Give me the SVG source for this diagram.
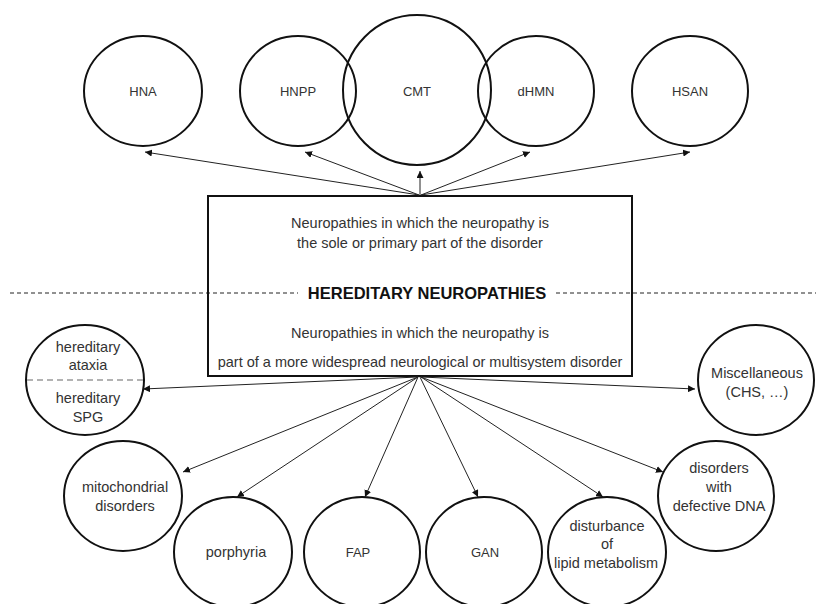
<svg xmlns="http://www.w3.org/2000/svg" width="816" height="604" viewBox="0 0 816 604">
<style>
.c{fill:none;stroke:#111;stroke-width:2}
.t{font-family:"Liberation Sans",Arial,sans-serif;font-size:14.5px;fill:#333;text-anchor:middle}
.k{font-size:13px}
.b{font-family:"Liberation Sans",Arial,sans-serif;font-size:16.5px;font-weight:bold;fill:#111;text-anchor:middle}
.a{stroke:#222;stroke-width:1;fill:none;marker-end:url(#ah)}
.d{stroke:#222;stroke-width:1;stroke-dasharray:4 3;fill:none}
</style>
<defs>
<marker id="ah" viewBox="0 0 10 10" refX="10" refY="5" markerWidth="7" markerHeight="7" orient="auto" markerUnits="userSpaceOnUse">
<path d="M0,0 L10,5 L0,10 z" fill="#111"/>
</marker>
</defs>
<rect width="816" height="604" fill="#fff"/>
<g id="dashes">
<line class="d" x1="10" y1="293" x2="298" y2="293"/>
<line class="d" x1="556" y1="293" x2="816" y2="293"/>
</g>
<g id="box">
<rect x="208" y="196" width="424" height="180" fill="none" stroke="#111" stroke-width="2"/>
<text class="t" x="420" y="228">Neuropathies in which the neuropathy is</text>
<text class="t" x="420" y="248">the sole or primary part of the disorder</text>
<text class="b" x="427" y="299">HEREDITARY NEUROPATHIES</text>
<text class="t" x="420" y="338">Neuropathies in which the neuropathy is</text>
<text class="t" x="420" y="367">part of a more widespread neurological or multisystem disorder</text>
</g>
<g id="HNA"><ellipse class="c" cx="143" cy="91" rx="59" ry="55"/><text class="t k" x="143" y="96">HNA</text></g>
<g id="HNPP"><ellipse class="c" cx="298" cy="91" rx="58" ry="55"/><text class="t k" x="298" y="96">HNPP</text></g>
<g id="CMT"><ellipse class="c" cx="417" cy="90" rx="74" ry="75"/><text class="t k" x="417" y="96">CMT</text></g>
<g id="dHMN"><ellipse class="c" cx="536" cy="91" rx="58" ry="55"/><text class="t k" x="536" y="96">dHMN</text></g>
<g id="HSAN"><ellipse class="c" cx="690" cy="91" rx="58" ry="55"/><text class="t k" x="690" y="96">HSAN</text></g>
<g id="ataxia-SPG">
<ellipse class="c" cx="85" cy="380" rx="59" ry="55"/>
<line x1="27" y1="380" x2="143" y2="380" stroke="#999" stroke-width="1.5" stroke-dasharray="6 4"/>
<text class="t" x="88" y="352">hereditary</text>
<text class="t" x="88" y="370">ataxia</text>
<text class="t" x="88" y="403">hereditary</text>
<text class="t" x="88" y="422">SPG</text>
</g>
<g id="mitochondrial"><ellipse class="c" cx="123" cy="496" rx="59" ry="55"/><text class="t" x="125" y="492">mitochondrial</text><text class="t" x="125" y="511">disorders</text></g>
<g id="porphyria"><ellipse class="c" cx="233" cy="552" rx="59" ry="55"/><text class="t" x="236" y="557">porphyria</text></g>
<g id="FAP"><ellipse class="c" cx="362" cy="552" rx="58" ry="55"/><text class="t k" x="358" y="557">FAP</text></g>
<g id="GAN"><ellipse class="c" cx="484" cy="552" rx="58" ry="55"/><text class="t k" x="485" y="557">GAN</text></g>
<g id="lipid"><ellipse class="c" cx="607" cy="552" rx="59" ry="55"/><text class="t" x="607" y="531">disturbance</text><text class="t" x="607" y="549">of</text><text class="t" x="606" y="568">lipid metabolism</text></g>
<g id="DNA"><ellipse class="c" cx="716" cy="496" rx="58" ry="55"/><text class="t" x="719" y="473">disorders</text><text class="t" x="719" y="492">with</text><text class="t" x="719" y="511">defective DNA</text></g>
<g id="misc"><ellipse class="c" cx="756" cy="380" rx="58" ry="55"/><text class="t" x="757" y="378">Miscellaneous</text><text class="t" x="757" y="397">(CHS, …)</text></g>
<g id="connectors">
<line class="a" x1="419" y1="195" x2="145" y2="152"/>
<line class="a" x1="419" y1="195" x2="305" y2="152"/>
<line class="a" x1="420" y1="195" x2="420" y2="171"/>
<line class="a" x1="421" y1="195" x2="530" y2="152"/>
<line class="a" x1="421" y1="195" x2="690" y2="152"/>
<line class="a" x1="418" y1="377" x2="143" y2="389"/>
<line class="a" x1="418" y1="377" x2="183" y2="472"/>
<line class="a" x1="418" y1="377" x2="237" y2="497"/>
<line class="a" x1="418" y1="377" x2="365" y2="497"/>
<line class="a" x1="420" y1="377" x2="478" y2="497"/>
<line class="a" x1="421" y1="377" x2="603" y2="497"/>
<line class="a" x1="421" y1="377" x2="663" y2="472"/>
<line class="a" x1="421" y1="377" x2="695" y2="389"/>
</g>
</svg>
